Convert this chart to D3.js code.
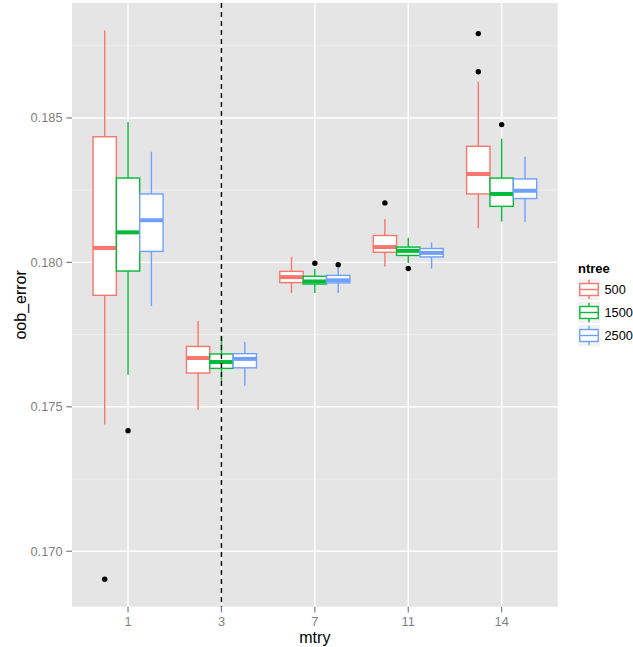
<!DOCTYPE html>
<html>
<head>
<meta charset="utf-8">
<script src="https://cdn.jsdelivr.net/npm/d3@7"></script>
<style>
  body { margin: 0; background: #fff; }
  text { font-family: "Liberation Sans", Arial, Helvetica, sans-serif; }
</style>
</head>
<body>
<svg id="chart"></svg>
<script>
// categories
const mtryLevels = ["1", "3", "7", "11", "14"];
const ntreeLevels = ["500", "1500", "2500"];
const ntreeColors = ["#F8766D", "#00BA38", "#6FA0FF"];

// box stats, one row per mtry, one column per ntree (500, 1500, 2500)
const whiskerLow = [
    [0.17439, 0.17611, 0.17849],
    [0.17490, 0.17590, 0.17573],
    [0.17894, 0.17894, 0.17894],
    [0.17986, 0.17998, 0.17979],
    [0.18118, 0.18141, 0.18141]
];
const lowerQuartile = [
    [0.17886, 0.17970, 0.18038],
    [0.17617, 0.17633, 0.17635],
    [0.17930, 0.17925, 0.17929],
    [0.18035, 0.18024, 0.18019],
    [0.18237, 0.18194, 0.18221]
];
const medians = [
    [0.18050, 0.18104, 0.18146],
    [0.17669, 0.17655, 0.17666],
    [0.17949, 0.17934, 0.17938],
    [0.18053, 0.18040, 0.18033],
    [0.18306, 0.18237, 0.18248]
];
const upperQuartile = [
    [0.18435, 0.18292, 0.18237],
    [0.17709, 0.17683, 0.17684],
    [0.17969, 0.17952, 0.17955],
    [0.18093, 0.18053, 0.18048],
    [0.18402, 0.18292, 0.18289]
];
const whiskerHigh = [
    [0.18803, 0.18486, 0.18383],
    [0.17798, 0.17746, 0.17724],
    [0.18019, 0.17978, 0.17981],
    [0.18150, 0.18085, 0.18069],
    [0.18626, 0.18428, 0.18366]
];
// outliers: [mtry index, ntree index, value]
const outliers = [
    [0, 0, 0.16903], [0, 1, 0.17417],
    [2, 1, 0.17997], [2, 2, 0.17992],
    [3, 0, 0.18206], [3, 1, 0.17979],
    [4, 0, 0.18792], [4, 0, 0.18660], [4, 1, 0.18477]
];

const yTicks = [0.170, 0.175, 0.180, 0.185];
const yMinorTicks = [0.1725, 0.1775, 0.1825, 0.1875];
const vlineAt = "3";

const width = 633, height = 647;
const panel = { left: 72, right: 557.7, top: 3, bottom: 606.7 };

const svg = d3.select("#chart")
    .attr("width", width)
    .attr("height", height);

// flatten to a table the drawing code can bind to
const boxes = [];
mtryLevels.forEach((m, i) => {
    ntreeLevels.forEach((n, j) => {
        boxes.push({
            mtry: m, ntree: j,
            lo: whiskerLow[i][j], q1: lowerQuartile[i][j], med: medians[i][j],
            q3: upperQuartile[i][j], hi: whiskerHigh[i][j]
        });
    });
});

// y range with ggplot's 5% expansion
const allVals = boxes.flatMap(b => [b.lo, b.hi]).concat(outliers.map(o => o[2]));
const [vMin, vMax] = d3.extent(allVals);
const pad = (vMax - vMin) * 0.05;

const x = d3.scalePoint()
    .domain(mtryLevels)
    .range([panel.left, panel.right])
    .padding(0.6);

const y = d3.scaleLinear()
    .domain([vMin - pad, vMax + pad])
    .range([panel.bottom, panel.top]);

const bw = x.step() * 0.25;
const cx = (m, j) => x(m) + (j - 1) * bw;

// panel background and grid
svg.append("rect")
    .attr("x", panel.left).attr("y", panel.top)
    .attr("width", panel.right - panel.left)
    .attr("height", panel.bottom - panel.top)
    .attr("fill", "#E5E5E5");

svg.append("g").selectAll("line")
    .data(yMinorTicks)
    .enter().append("line")
    .attr("x1", panel.left).attr("x2", panel.right)
    .attr("y1", d => y(d)).attr("y2", d => y(d))
    .attr("stroke", "#F2F2F2").attr("stroke-width", 0.7);

svg.append("g").selectAll("line")
    .data(yTicks)
    .enter().append("line")
    .attr("x1", panel.left).attr("x2", panel.right)
    .attr("y1", d => y(d)).attr("y2", d => y(d))
    .attr("stroke", "#fff").attr("stroke-width", 1.4);

svg.append("g").selectAll("line")
    .data(mtryLevels)
    .enter().append("line")
    .attr("x1", d => x(d)).attr("x2", d => x(d))
    .attr("y1", panel.top).attr("y2", panel.bottom)
    .attr("stroke", "#fff").attr("stroke-width", 1.4);

// boxplots
const g = svg.append("g").selectAll("g")
    .data(boxes)
    .enter().append("g");

g.append("line")
    .attr("x1", d => cx(d.mtry, d.ntree)).attr("x2", d => cx(d.mtry, d.ntree))
    .attr("y1", d => y(d.hi)).attr("y2", d => y(d.q3))
    .attr("stroke", d => ntreeColors[d.ntree]).attr("stroke-width", 1.4);

g.append("line")
    .attr("x1", d => cx(d.mtry, d.ntree)).attr("x2", d => cx(d.mtry, d.ntree))
    .attr("y1", d => y(d.q1)).attr("y2", d => y(d.lo))
    .attr("stroke", d => ntreeColors[d.ntree]).attr("stroke-width", 1.4);

g.append("rect")
    .attr("x", d => cx(d.mtry, d.ntree) - bw / 2)
    .attr("width", bw)
    .attr("y", d => y(d.q3))
    .attr("height", d => y(d.q1) - y(d.q3))
    .attr("fill", "#fff")
    .attr("stroke", d => ntreeColors[d.ntree]).attr("stroke-width", 1.4);

g.append("line")
    .attr("x1", d => cx(d.mtry, d.ntree) - bw / 2)
    .attr("x2", d => cx(d.mtry, d.ntree) + bw / 2)
    .attr("y1", d => y(d.med)).attr("y2", d => y(d.med))
    .attr("stroke", d => ntreeColors[d.ntree]).attr("stroke-width", 4);

svg.append("g").selectAll("circle")
    .data(outliers)
    .enter().append("circle")
    .attr("cx", d => cx(mtryLevels[d[0]], d[1]))
    .attr("cy", d => y(d[2]))
    .attr("r", 2.7)
    .attr("fill", "#000");

// dashed reference line
svg.append("line")
    .attr("x1", x(vlineAt)).attr("x2", x(vlineAt))
    .attr("y1", panel.top).attr("y2", panel.bottom)
    .attr("stroke", "#000").attr("stroke-width", 1.4)
    .attr("stroke-dasharray", "5,4");

// axes
const axisCol = "#7F7F7F";
const yAxis = svg.append("g");
yAxis.selectAll("line")
    .data(yTicks).enter().append("line")
    .attr("x1", panel.left - 5.7).attr("x2", panel.left)
    .attr("y1", d => y(d)).attr("y2", d => y(d))
    .attr("stroke", axisCol).attr("stroke-width", 1.2);
yAxis.selectAll("text")
    .data(yTicks).enter().append("text")
    .attr("x", panel.left - 9.5)
    .attr("y", d => y(d))
    .attr("dy", "0.35em")
    .attr("text-anchor", "end")
    .style("font-size", "12.8px")
    .style("fill", axisCol)
    .text(d => d3.format(".3f")(d));

const xAxis = svg.append("g");
xAxis.selectAll("line")
    .data(mtryLevels).enter().append("line")
    .attr("x1", d => x(d)).attr("x2", d => x(d))
    .attr("y1", panel.bottom).attr("y2", panel.bottom + 5.7)
    .attr("stroke", axisCol).attr("stroke-width", 1.2);
xAxis.selectAll("text")
    .data(mtryLevels).enter().append("text")
    .attr("x", d => x(d))
    .attr("y", 621.7)
    .attr("dy", "0.35em")
    .attr("text-anchor", "middle")
    .style("font-size", "12.8px")
    .style("fill", axisCol)
    .text(d => d);

svg.append("text")
    .attr("x", (panel.left + panel.right) / 2)
    .attr("y", 637)
    .attr("dy", "0.35em")
    .attr("text-anchor", "middle")
    .style("font-size", "16px")
    .text("mtry");

svg.append("text")
    .attr("transform", `translate(20, ${(panel.top + panel.bottom) / 2}) rotate(-90)`)
    .attr("dy", "0.35em")
    .attr("text-anchor", "middle")
    .style("font-size", "16px")
    .text("oob_error");

// legend
const keySize = 23;
const legend = svg.append("g").attr("transform", "translate(577.5, 278)");

legend.append("text")
    .attr("x", 0.5)
    .attr("y", -9.5)
    .attr("dy", "0.35em")
    .style("font-size", "13px")
    .style("font-weight", "bold")
    .text("ntree");

const keys = legend.selectAll("g")
    .data(ntreeLevels)
    .enter().append("g")
    .attr("transform", (d, i) => `translate(0, ${i * keySize})`);

keys.append("rect")
    .attr("width", keySize).attr("height", keySize)
    .attr("fill", "#F2F2F2").attr("stroke", "#fff").attr("stroke-width", 1.5);

keys.append("line")
    .attr("x1", keySize / 2).attr("x2", keySize / 2)
    .attr("y1", keySize * 0.08).attr("y2", keySize * 0.92)
    .attr("stroke", (d, i) => ntreeColors[i]).attr("stroke-width", 1.4);

keys.append("rect")
    .attr("x", keySize * 0.1).attr("width", keySize * 0.8)
    .attr("y", keySize * 0.24).attr("height", keySize * 0.52)
    .attr("fill", "#fff")
    .attr("stroke", (d, i) => ntreeColors[i]).attr("stroke-width", 1.4);

keys.append("line")
    .attr("x1", keySize * 0.1).attr("x2", keySize * 0.9)
    .attr("y1", keySize / 2).attr("y2", keySize / 2)
    .attr("stroke", (d, i) => ntreeColors[i]).attr("stroke-width", 1.4);

keys.append("text")
    .attr("x", keySize + 4)
    .attr("y", keySize / 2)
    .attr("dy", "0.35em")
    .style("font-size", "12.8px")
    .text(d => d);
</script>
</body>
</html>
